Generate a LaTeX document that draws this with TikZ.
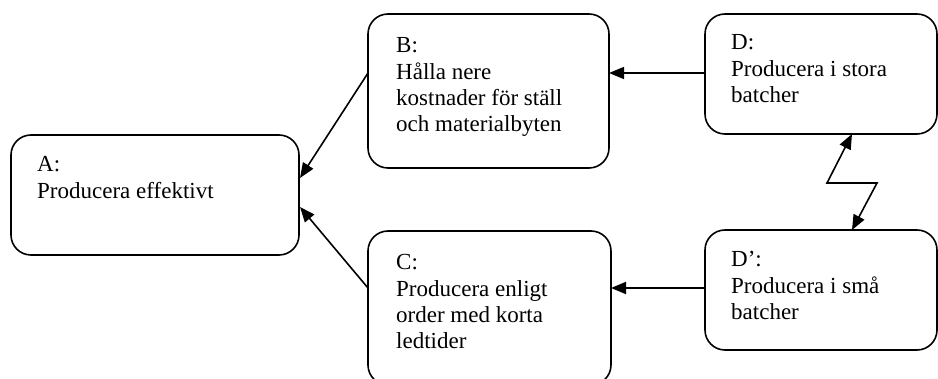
\documentclass[tikz,border=0pt]{standalone}
\usepackage{fontspec}
\setmainfont{Liberation Serif}
\usetikzlibrary{arrows.meta,calc}

% multi-line box text whose baseline is that of its first line
\newcommand\boxlines[1]{\begin{tabular}[t]{@{}l@{}}#1\end{tabular}}

\tikzset{
  box/.style={draw, rectangle, line width=1.6pt, rounded corners=20pt,
              inner sep=0pt, outer sep=0pt},
  txt/.style={inner sep=0pt, anchor=base west,
              font=\fontsize{23}{26.3}\selectfont},
  arr/.style={line width=1.6pt, -{Triangle[length=15pt,width=12pt]}},
  arrboth/.style={line width=1.6pt,
    {Triangle[length=15pt,width=12pt]}-{Triangle[length=15pt,width=12pt]}},
}

\begin{document}
\begin{tikzpicture}[x=1pt,y=-1pt]
  \clip (0,0) rectangle (938,379);

  % boxes
  \node[box, minimum width=288pt, minimum height=120pt] (A)  at (155,195)   {};
  \node[box, minimum width=241pt, minimum height=154pt] (B)  at (488.5,91)  {};
  \node[box, minimum width=243pt, minimum height=154pt] (C)  at (489.5,308) {};
  \node[box, minimum width=232pt, minimum height=120pt] (D)  at (821,74)    {};
  \node[box, minimum width=232pt, minimum height=120pt] (Dp) at (821,290)   {};

  % box texts
  \node[txt] (At)  at ($(A.north west)+(26,37)$)  {\boxlines{A:\\Producera effektivt}};
  \node[txt] (Bt)  at ($(B.north west)+(28,39)$)  {\boxlines{B:\\Hålla nere\\kostnader för ställ\\och materialbyten}};
  \node[txt] (Ct)  at ($(C.north west)+(28,39)$)  {\boxlines{C:\\Producera enligt\\order med korta\\ledtider}};
  \node[txt] (Dt)  at ($(D.north west)+(26,36)$)  {\boxlines{D:\\Producera i stora\\batcher}};
  \node[txt] (Dpt) at ($(Dp.north west)+(26,37)$) {\boxlines{D’:\\Producera i små\\batcher}};

  % connectors
  \draw[arr] ($(B.north west)+(0,59)$)  -- ($(A.north east)+(1,43)$);
  \draw[arr] ($(C.north west)+(0,57)$)  -- ($(A.north east)+(1,72)$);
  \draw[arr] ($(D.north west)+(0,59)$)  -- ($(B.north east)+(0,59)$);
  \draw[arr] ($(Dp.north west)+(0,58)$) -- ($(C.north east)+(0,57)$);

  % zigzag link between D and D'
  \coordinate (z1) at (827,183);
  \coordinate (z2) at (877,183);
  \draw[arrboth] ($(D.south west)+(147,0)$) -- (z1) -- (z2) -- ($(Dp.north west)+(147,0)$);
\end{tikzpicture}
\end{document}
